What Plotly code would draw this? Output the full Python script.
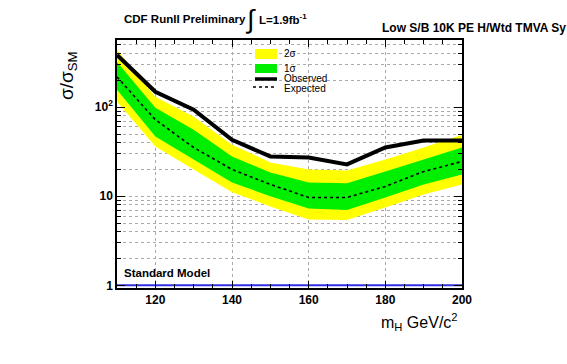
import plotly.graph_objects as go

# ---- data ----
mass = [110, 120, 130, 140, 150, 160, 170, 180, 190, 200]
observed = [386, 149, 94, 43, 28, 27.3, 22.8, 35.3, 42.2, 42.2]
expected = [219, 72.5, 35.3, 20, 13.6, 9.7, 9.7, 12.9, 19, 24.6]
one_sigma_hi = [322, 98.7, 56, 28, 18.5, 14.3, 14, 19, 25.9, 35.3]
one_sigma_lo = [157, 46.8, 25.9, 14.3, 10, 7.3, 7.0, 9.7, 13.6, 17.6]
two_sigma_hi = [439, 131, 78, 38, 24, 20, 19.5, 25.9, 35.3, 49]
two_sigma_lo = [115, 36.2, 20, 11.1, 7.7, 5.5, 5.4, 7.5, 10.5, 13.6]
sm_mass = [110, 200]
sm_ratio = [1, 1]
x_ticks = [120, 140, 160, 180, 200]
y_ticks = [1, 10, 100]
y_ticklabels = ["1", "10", "10<sup>2</sup>"]

W, H = 567, 364
L, R, T, B = 117, 462, 40, 288

def px(x):
    return (x - L) / (R - L)

def py(y):
    return (B - y) / (B - T)

FONT = "Liberation Sans"
YELLOW = "#ffff00"
GREEN = "#00ee00"

fig = go.Figure()

fig.add_trace(go.Scatter(
    x=mass + mass[::-1], y=two_sigma_hi + two_sigma_lo[::-1],
    fill="toself", fillcolor=YELLOW, mode="none", hoverinfo="skip", showlegend=False))
fig.add_trace(go.Scatter(
    x=mass + mass[::-1], y=one_sigma_hi + one_sigma_lo[::-1],
    fill="toself", fillcolor=GREEN, mode="none", hoverinfo="skip", showlegend=False))
fig.add_trace(go.Scatter(
    x=mass, y=expected, mode="lines",
    line=dict(color="black", width=1.6, dash="3px,3px"), showlegend=False))
fig.add_trace(go.Scatter(
    x=mass, y=observed, mode="lines",
    line=dict(color="black", width=4), showlegend=False))
fig.add_trace(go.Scatter(
    x=sm_mass, y=sm_ratio, mode="lines",
    line=dict(color="#3030e0", width=2), showlegend=False))

# ---- manual legend ----
shapes = [
    dict(type="rect", xref="paper", yref="paper", x0=px(255), x1=px(277), y0=py(59), y1=py(49),
         fillcolor=YELLOW, line=dict(width=0)),
    dict(type="rect", xref="paper", yref="paper", x0=px(255), x1=px(277), y0=py(73), y1=py(64),
         fillcolor=GREEN, line=dict(width=0)),
    dict(type="line", xref="paper", yref="paper", x0=px(255), x1=px(277), y0=py(79), y1=py(79),
         line=dict(color="black", width=3.5)),
    dict(type="line", xref="paper", yref="paper", x0=px(253), x1=px(277), y0=py(87), y1=py(87),
         line=dict(color="black", width=1.5, dash="3px,3px")),
]
fig.update_layout(shapes=shapes)

ann = []
def text(x, y, s, size, bold=False, anchor="left", **kw):
    ann.append(dict(xref="paper", yref="paper", x=px(x), y=py(y), text=s, showarrow=False,
                    xanchor=anchor, yanchor="middle",
                    font=dict(family=FONT, size=size, color="black", weight="bold" if bold else "normal"),
                    **kw))

text(282, 54, "2σ", 10)
text(282, 68, "1σ", 10)
text(282, 78.5, "Observed", 10)
text(282, 88.5, "Expected", 10)
text(122, 19, "CDF RunII Preliminary", 11.5, bold=True)
text(243, 19, "∫", 26)
text(257, 19, "L=1.9fb<sup>-1</sup>", 11.5, bold=True)
text(380, 28, "Low S/B 10K PE H/Wtd TMVA Sy", 12, bold=True)
text(122, 273, "Standard Model", 11.5, bold=True)
text(460, 322, "m<sub>H</sub> GeV/c<sup>2</sup>", 16, anchor="right")
ann.append(dict(xref="paper", yref="paper", x=px(68), y=py(76), text="σ/σ<sub>SM</sub>",
                showarrow=False, textangle=-90, xanchor="center", yanchor="middle",
                font=dict(family=FONT, size=19, color="black")))

fig.update_layout(annotations=ann)

fig.update_layout(
    width=W, height=H,
    margin=dict(l=L, r=W - R, t=T, b=H - B, pad=0),
    paper_bgcolor="white", plot_bgcolor="white",
    showlegend=False,
    xaxis=dict(range=[110, 200], tickvals=x_ticks, ticks="inside", ticklen=7, tickcolor="black",
               showline=True, linecolor="black", linewidth=1.5, mirror="allticks",
               showgrid=True, gridcolor="#aaaaaa", griddash="dot", gridwidth=1,
               zeroline=False, automargin=False,
               tickfont=dict(family=FONT, size=12, color="black", weight="bold"),
               minor=dict(dtick=5, tick0=110, ticks="inside", ticklen=4, tickcolor="black", showgrid=False)),
    yaxis=dict(type="log", range=[-0.03, 2.755], tickvals=y_ticks, ticktext=y_ticklabels,
               ticks="inside", ticklen=8, tickcolor="black",
               showline=True, linecolor="black", linewidth=1.5, mirror="allticks",
               showgrid=True, gridcolor="#aaaaaa", griddash="dot", gridwidth=1,
               zeroline=False, automargin=False,
               tickfont=dict(family=FONT, size=12, color="black", weight="bold"),
               minor=dict(dtick="D1", ticks="inside", ticklen=4, tickcolor="black",
                          showgrid=True, gridcolor="#aaaaaa", griddash="dot", gridwidth=1)),
)

fig.write_html("out.html", config={"displayModeBar": False},
               post_script="document.body.style.margin='0px';")
